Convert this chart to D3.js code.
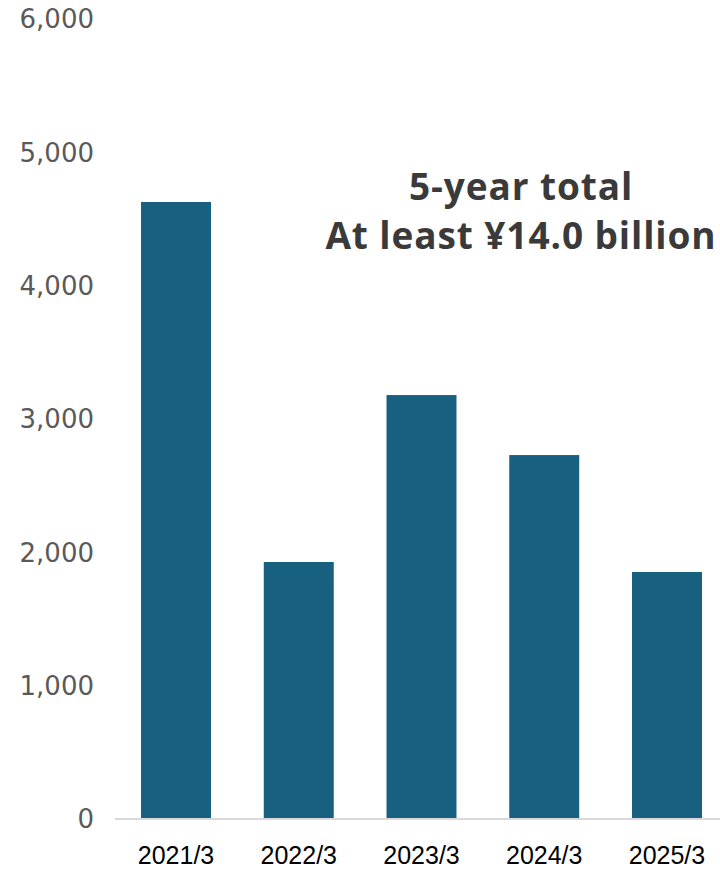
<!DOCTYPE html>
<html>
<head>
<meta charset="utf-8">
<script src="https://cdn.jsdelivr.net/npm/d3@7"></script>
<style>
  body { margin: 0; background: #fff; overflow: hidden; }
  svg { display: block; }
</style>
</head>
<body>
<svg class="chart" width="720" height="870"></svg>
<script>

// data
const categories = ['2021/3', '2022/3', '2023/3', '2024/3', '2025/3'];
const values = [4620, 1920, 3172, 2722, 1845];
const yTicks = [0, 1000, 2000, 3000, 4000, 5000, 6000];
const noteLines = ['5-year total', 'At least ¥14.0 billion'];

const svg = d3.select('.chart');

const y = d3.scaleLinear()
    .domain([0, 6000])
    .range([818, 18]);

const x = d3.scaleBand()
    .domain(categories)
    .range([115, 728])
    .paddingInner(0.43)
    .paddingOuter(0.212);

// y tick labels (no axis line)
svg.append('g')
    .selectAll('text')
    .data(yTicks)
    .join('text')
    .attr('x', 94)
    .attr('y', d => y(d) + 1)
    .attr('dy', '0.36em')
    .attr('text-anchor', 'end')
    .attr('font-family', '"DejaVu Sans", sans-serif')
    .attr('font-size', 26)
    .attr('fill', '#595959')
    .text(d => d3.format(',')(d));

// bars
svg.append('g')
    .selectAll('rect')
    .data(values)
    .join('rect')
    .attr('x', (d, i) => x(categories[i]))
    .attr('y', d => y(d))
    .attr('width', x.bandwidth())
    .attr('height', d => y(0) - y(d))
    .attr('fill', '#17607f');

// baseline
svg.append('line')
    .attr('x1', 115)
    .attr('x2', 720)
    .attr('y1', y(0) + 1)
    .attr('y2', y(0) + 1)
    .attr('stroke', '#d9d9d9')
    .attr('stroke-width', 2);

// category labels
svg.append('g')
    .selectAll('text')
    .data(categories)
    .join('text')
    .attr('x', d => x(d) + x.bandwidth() / 2)
    .attr('y', 864)
    .attr('text-anchor', 'middle')
    .attr('font-family', '"Liberation Sans", Arial, sans-serif')
    .attr('font-size', 25)
    .attr('fill', '#000')
    .text(d => d);

// annotation
svg.append('text')
    .attr('text-anchor', 'middle')
    .attr('font-family', '"Open Sans", "Noto Sans", sans-serif')
    .attr('font-weight', 700)
    .attr('font-size', 37)
    .attr('letter-spacing', 0.9)
    .attr('fill', '#3a3a3a')
    .selectAll('tspan')
    .data(noteLines)
    .join('tspan')
    .attr('x', 521)
    .attr('y', (d, i) => 200 + i * 49)
    .text(d => d);

</script>
</body>
</html>
